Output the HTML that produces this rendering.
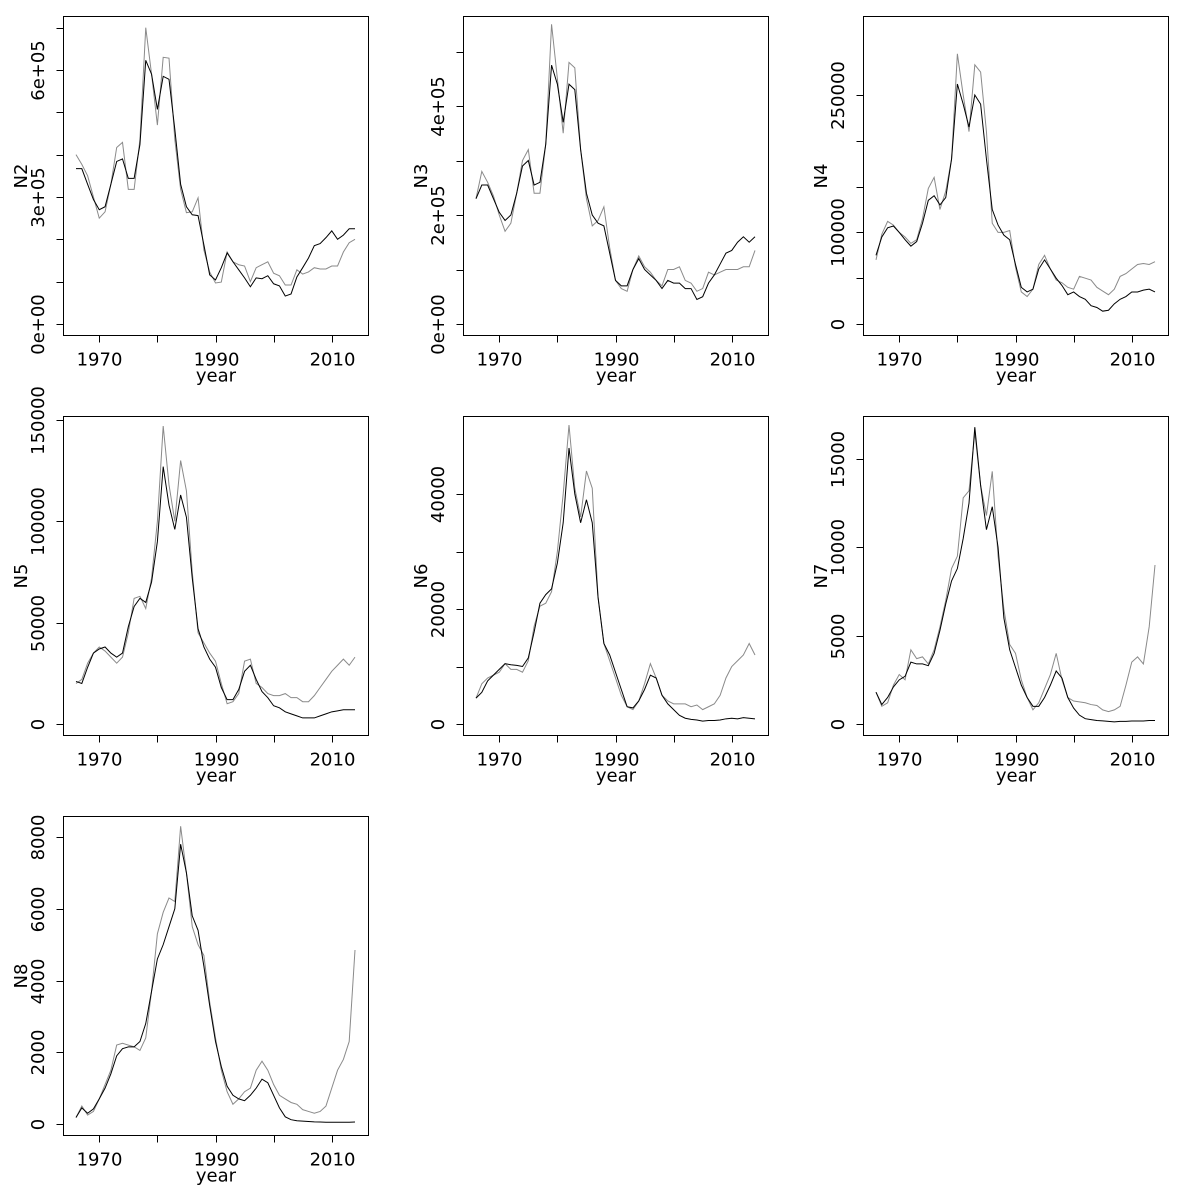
<!DOCTYPE html>
<html><head><meta charset="utf-8"><style>
html,body{margin:0;padding:0;background:#fff;}
svg{display:block;font-family:"DejaVu Sans","Liberation Sans",sans-serif;}
</style></head><body>
<svg id="chart" width="1200" height="1200" viewBox="0 0 1200 1200" xmlns="http://www.w3.org/2000/svg"></svg>
<script>
const years = [];
for (let y = 1966; y <= 2014; y++) years.push(y);
const xTicks = [1970, 1980, 1990, 2000, 2010];
const xTickLabels = ["1970", "", "1990", "", "2010"];

const panelNames = ["N2","N3","N4","N5","N6","N7","N8"];
const n2Black = [367000,367000,330000,294000,270000,277000,330000,384000,390000,344000,344000,424000,623000,590000,507000,585000,578000,460000,330000,277000,258000,256000,187000,116000,104000,133000,168000,147000,128000,109000,88000,109000,107000,114000,95000,90000,66000,71000,111000,133000,156000,185000,190000,204000,220000,200000,210000,225000,225000];
const n2Grey = [400000,377000,350000,300000,250000,265000,330000,417000,429000,318000,318000,436000,700000,590000,470000,630000,628000,436000,318000,263000,265000,298000,175000,123000,97000,99000,170000,147000,140000,137000,100000,133000,140000,147000,120000,114000,92000,92000,128000,118000,123000,133000,130000,130000,137000,137000,170000,192000,200000];
const n3Black = [230000,255000,255000,230000,205000,190000,200000,240000,290000,300000,255000,260000,330000,475000,440000,370000,440000,430000,320000,240000,200000,185000,180000,130000,80000,70000,70000,100000,120000,100000,90000,80000,65000,80000,75000,75000,65000,65000,45000,50000,75000,90000,110000,130000,135000,150000,160000,150000,160000];
const n3Grey = [230000,280000,260000,235000,200000,170000,185000,240000,300000,320000,240000,240000,330000,550000,450000,350000,480000,470000,320000,230000,180000,190000,215000,140000,80000,65000,60000,100000,125000,105000,95000,80000,70000,100000,100000,105000,80000,75000,60000,65000,95000,90000,95000,100000,100000,100000,105000,105000,135000];
const n4Black = [75000,95000,105000,107000,100000,92000,85000,90000,110000,135000,140000,130000,138000,180000,262000,240000,215000,250000,240000,180000,125000,108000,97000,92000,65000,40000,35000,38000,60000,70000,60000,50000,42000,32000,35000,30000,27000,20000,18000,14000,15000,22000,27000,30000,35000,35000,37000,38000,35000];
const n4Grey = [70000,98000,112000,108000,100000,95000,88000,92000,115000,148000,160000,125000,145000,180000,295000,250000,210000,283000,275000,210000,110000,100000,100000,102000,62000,35000,30000,38000,65000,75000,60000,48000,45000,40000,38000,52000,50000,48000,40000,36000,32000,38000,52000,55000,60000,65000,66000,65000,68000];
const n5Black = [21000,20000,28000,35000,37000,38000,35000,33000,35000,48000,58000,62000,60000,70000,90000,127000,108000,96000,113000,102000,72000,47000,38000,32000,28000,18000,12000,12000,17000,26000,29000,22000,16000,13000,9000,8000,6000,5000,4000,3000,3000,3000,4000,5000,6000,6500,7000,7000,7000];
const n5Grey = [20000,22000,30000,35000,38000,36000,33000,30000,33000,45000,62000,63000,57000,72000,100000,147000,118000,100000,130000,115000,75000,45000,40000,35000,31000,20000,10000,11000,15000,31000,32000,20000,18000,15000,14000,14000,15000,13000,13000,11000,11000,14000,18000,22000,26000,29000,32000,29000,33000];
const n6Black = [4500,5500,7500,8500,9500,10500,10300,10200,10000,11500,16000,21000,22500,23500,28000,35000,48000,40000,35000,39000,35000,22000,14000,12000,9000,6000,3000,2800,4000,6000,8500,8000,5000,3500,2500,1500,1000,800,700,500,600,600,700,900,1000,900,1100,1000,900];
const n6Grey = [4500,7000,8000,8500,9000,10500,9500,9500,9000,11000,17000,20500,21000,23000,30000,40000,52000,41000,36000,44000,41000,22000,14000,11000,8000,5000,3000,2500,4000,7000,10500,8000,5000,4000,3500,3500,3500,3000,3300,2500,3000,3500,5000,8000,10000,11000,12000,14000,12000];
const n7Black = [1800,1100,1500,2100,2500,2700,3500,3400,3400,3300,4000,5300,6800,8100,8800,10500,12500,16800,13500,11000,12300,10000,6000,4200,3200,2200,1500,1000,1000,1500,2200,3000,2600,1500,900,500,300,250,200,180,150,120,150,150,170,170,170,200,200];
const n7Grey = [1800,1000,1200,2200,2800,2500,4200,3700,3800,3400,4200,5500,7000,8800,9500,12800,13200,16500,13500,11800,14300,9500,6500,4500,4000,2500,1500,800,1200,2000,2800,4000,2500,1500,1300,1250,1200,1100,1050,800,700,800,1000,2200,3500,3800,3400,5500,9000];
const n8Black = [180,450,300,420,700,1000,1400,1900,2100,2150,2150,2300,2800,3700,4600,5000,5500,6000,7800,7000,5800,5400,4400,3300,2300,1600,1050,800,700,650,800,1000,1250,1150,800,450,200,120,90,80,70,60,55,50,50,50,50,50,55];
const n8Grey = [180,500,250,350,700,1100,1500,2200,2250,2200,2150,2050,2400,3700,5300,5900,6300,6200,8300,7000,5500,5000,4700,3400,2400,1500,900,550,700,900,1000,1500,1750,1500,1100,800,700,600,550,400,350,300,350,500,1000,1500,1800,2300,4850];

const yTicksN2 = [0,100000,200000,300000,400000,500000,600000,700000];
const yLabelsN2 = ["0e+00","","","3e+05","","","6e+05",""];
const yTicksN3 = [0,100000,200000,300000,400000,500000];
const yLabelsN3 = ["0e+00","","2e+05","","4e+05",""];
const yTicksN4 = [0,50000,100000,150000,200000,250000];
const yLabelsN4 = ["0","","100000","","","250000"];
const yTicksN5 = [0,50000,100000,150000];
const yLabelsN5 = ["0","50000","100000","150000"];
const yTicksN6 = [0,10000,20000,30000,40000];
const yLabelsN6 = ["0","","20000","","40000"];
const yTicksN7 = [0,5000,10000,15000];
const yLabelsN7 = ["0","5000","10000","15000"];
const yTicksN8 = [0,2000,4000,6000,8000];
const yLabelsN8 = ["0","2000","4000","6000","8000"];

const NS = "http://www.w3.org/2000/svg";
const svg = document.getElementById("chart");
function mk(tag, attrs, parent) {
  const e = document.createElementNS(NS, tag);
  for (const k in attrs) e.setAttribute(k, attrs[k]);
  parent.appendChild(e);
  return e;
}

const panels = [
  {name:"N2", col:0,row:0, black:n2Black, grey:n2Grey, ticks:yTicksN2, labels:yLabelsN2, zero:324, top:70, topVal:600000},
  {name:"N3", col:1,row:0, black:n3Black, grey:n3Grey, ticks:yTicksN3, labels:yLabelsN3, zero:324, top:106, topVal:400000},
  {name:"N4", col:2,row:0, black:n4Black, grey:n4Grey, ticks:yTicksN4, labels:yLabelsN4, zero:324, top:95, topVal:250000},
  {name:"N5", col:0,row:1, black:n5Black, grey:n5Grey, ticks:yTicksN5, labels:yLabelsN5, zero:324, top:20, topVal:150000},
  {name:"N6", col:1,row:1, black:n6Black, grey:n6Grey, ticks:yTicksN6, labels:yLabelsN6, zero:324, top:94, topVal:40000},
  {name:"N7", col:2,row:1, black:n7Black, grey:n7Grey, ticks:yTicksN7, labels:yLabelsN7, zero:324, top:59, topVal:15000},
  {name:"N8", col:0,row:2, black:n8Black, grey:n8Grey, ticks:yTicksN8, labels:yLabelsN8, zero:324, top:37, topVal:8000}
];

panels.forEach(function(p){
  const ox = p.col*400, oy = p.row*400;
  const g = mk("g", {transform:"translate("+ox+","+oy+")"}, svg);
  
  
  const left = 63.5, right = 368.5, top = 16.5, bottom = 335.5;
  const xScale = function(yr){ return 76 + (yr-1966)*((355-76)/48); };
  const yScale = function(v){ return p.zero - v*(p.zero - p.top)/p.topVal; };

  const greyPts = years.map(function(yr,i){ return xScale(yr).toFixed(2)+","+yScale(p.grey[i]).toFixed(2); }).join(" ");
  const gl = mk("polyline", {points:greyPts, fill:"none", stroke:"#8a8a8a", "stroke-width":"1"}, g);
  
  
  const blackPts = years.map(function(yr,i){ return xScale(yr).toFixed(2)+","+yScale(p.black[i]).toFixed(2); }).join(" ");
  const bl = mk("polyline", {points:blackPts, fill:"none", stroke:"#000", "stroke-width":"1"}, g);
  
  

  const box = mk("rect", {x:left, y:top, width:right-left, height:bottom-top, fill:"none", stroke:"#000", "stroke-width":"1"}, g);
  
  

  xTicks.forEach(function(t,i){
    const x = Math.round(xScale(t))+0.5;
    const tk = mk("line", {x1:x, x2:x, y1:bottom, y2:bottom+7, stroke:"#000", "stroke-width":"1"}, g);
    
    
    if (xTickLabels[i]) {
      const tx = mk("text", {x:x, y:bottom+30, "text-anchor":"middle", "font-size":"18"}, g);
      tx.textContent = xTickLabels[i];
      
      
    }
  });
  const xt = mk("text", {x:216, y:bottom+46, "text-anchor":"middle", "font-size":"18"}, g);
  xt.textContent = "year";
  
  

  p.ticks.forEach(function(t,i){
    const y = Math.round(yScale(t))+0.5;
    const tk = mk("line", {x1:left-7, x2:left, y1:y, y2:y, stroke:"#000", "stroke-width":"1"}, g);
    
    
    if (p.labels[i]) {
      const tx = mk("text", {x:0, y:0, "text-anchor":"middle", "font-size":"18", transform:"translate(44,"+y+") rotate(-90)"}, g);
      tx.textContent = p.labels[i];
      
      
    }
  });
  const yt = mk("text", {x:0, y:0, "text-anchor":"middle", "font-size":"18", transform:"translate(27,176) rotate(-90)"}, g);
  yt.textContent = p.name;
  
  
});
</script>
</body></html>
